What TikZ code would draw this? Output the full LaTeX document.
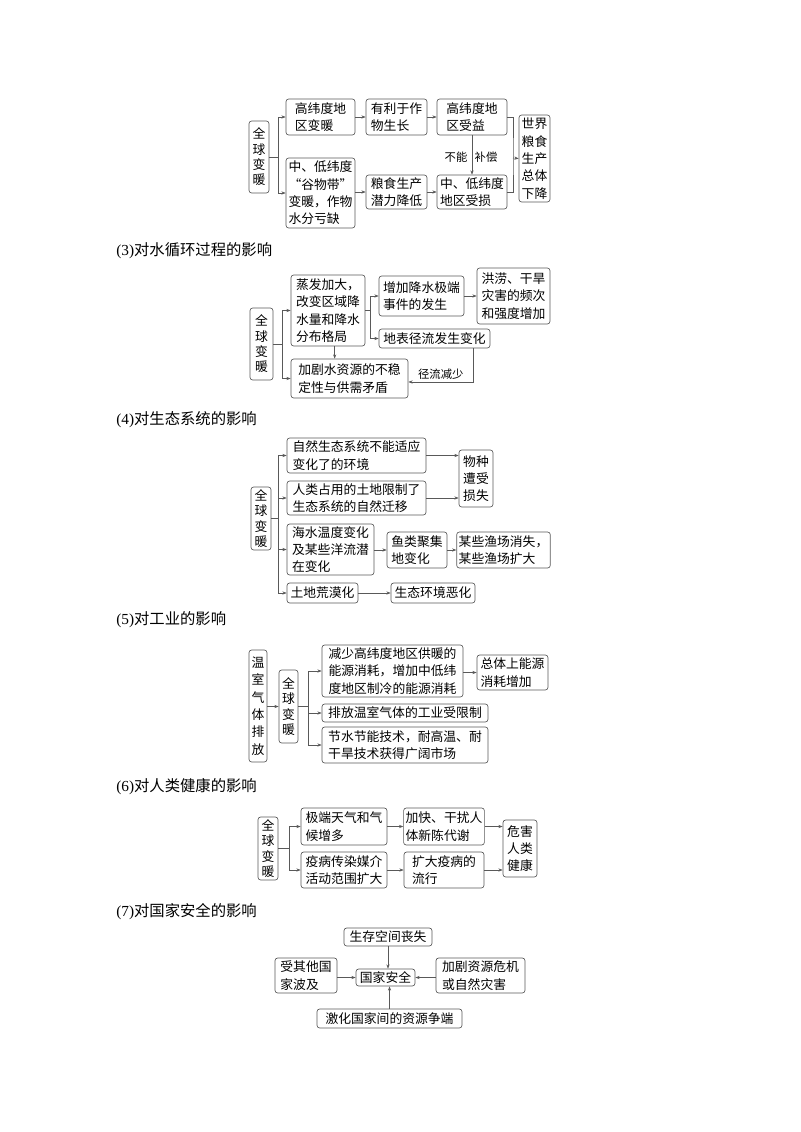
\documentclass[tikz,border=0pt]{standalone}
\usepackage{fontspec}
\setmainfont{Liberation Serif}
\newfontfamily\cjk{Noto Sans CJK SC}
\usepackage{tikz}
\usetikzlibrary{arrows.meta}
\definecolor{boxgray}{rgb}{0.35,0.35,0.35}

\begin{document}
\begin{tikzpicture}[x=0.75pt, y=-0.75pt,
  box/.style={draw=boxgray, rounded corners=2pt, line width=0.5pt, align=left,
    inner xsep=1.5pt, inner ysep=1pt, font=\cjk\fontsize{9.6}{13}\selectfont},
  vbox/.style={box, align=center, font=\cjk\fontsize{9.6}{11.5}\selectfont},
  cbox/.style={box, align=center},
  sz/.style 2 args={minimum width=#1*0.75pt, minimum height=#2*0.75pt},
  arr/.style={-{Stealth[length=3.2pt, width=2.4pt]}, draw=boxgray, line width=0.45pt},
  lnk/.style={draw=boxgray, line width=0.45pt},
  lbl/.style={font=\cjk\fontsize{8.5}{9}\selectfont, inner sep=1pt},
  ttl/.style={anchor=west, inner sep=0pt, font=\fontsize{11.5}{13}\selectfont}
]
\useasboundingbox (0,0) rectangle (800,1132);

% (2) grain production
\node[vbox, sz={20}{72}] (qq1) at (259,157) {全\\球\\变\\暖};
\node[box, sz={69}{36}] (a1) at (320.5,117) {高纬度地\\区变暖};
\node[box, sz={61}{36}] (a2) at (396.5,117) {有利于作\\物生长};
\node[box, sz={70}{36}] (a3) at (472,117) {高纬度地\\区受益};
\node[box, sz={69}{70}] (b1) at (320.5,193) {中、低纬度\\“谷物带”\\变暖，作物\\水分亏缺};
\node[box, sz={61}{34}] (b2) at (396.5,192) {粮食生产\\潜力降低};
\node[box, sz={70}{34}] (b3) at (472,192) {中、低纬度\\地区受损};
\node[cbox, sz={31}{87}] (c1) at (534.5,158.5) {世界\\粮食\\生产\\总体\\下降};
\node[lbl] (bn) at (456,157) {不能};
\node[lbl] (bc) at (486,157) {补偿};

\draw[arr] (qq1.east) -- ++(9,0) |- (a1.west);
\draw[arr] (qq1.east) -- ++(9,0) |- (b1.west);
\draw[arr] (a1) -- (a2);
\draw[arr] (a2) -- (a3);
\draw[arr] (b1.east |- b2) -- (b2.west);
\draw[arr] (b2) -- (b3);
\draw[arr] (a3) -- (a3 |- b3.north);
\coordinate (r1) at (513,158);
\draw[lnk] (a3.east) -| (r1) |- (b3.east);
\draw[arr] (r1) -- (c1.west);

% (3) water cycle
\node[ttl] (t3) at (116,251) {(3)\cjk 对水循环过程的影响};
\node[vbox, sz={23}{72}] (qq3) at (261.5,344) {全\\球\\变\\暖};
\node[box, sz={74}{71}] (d1) at (328,310.5) {蒸发加大，\\改变区域降\\水量和降水\\分布格局};
\node[box, sz={85}{40}] (d2) at (421.5,296) {增加降水极端\\事件的发生};
\node[box, sz={73}{56}] (d3) at (513.5,296) {洪涝、干旱\\灾害的频次\\和强度增加};
\node[box, sz={111}{19}] (d4) at (434.5,338.5) {地表径流发生变化};
\node[box, sz={117}{39}] (d5) at (349.5,378.5) {加剧水资源的不稳\\定性与供需矛盾};

\draw[arr] (qq3.east) -- ++(9,0) |- (d1.west);
\draw[arr] (qq3.east) -- ++(9,0) |- (d5.west);
\draw[arr] ([xshift=5pt]d1.south) -- ([xshift=5pt]d1.south |- d5.north);
\draw[arr] (d1.east) -- ++(5,0) |- (d2.west);
\draw[arr] (d1.east) -- ++(5,0) |- (d4.west);
\draw[arr] (d2) -- (d3);
\draw[arr] ([xshift=29pt]d4.south) |- ([yshift=-2.6pt]d5.east)
  node[pos=0.75, above=1pt, lbl] {径流减少};

% (4) ecosystems
\node[ttl] (t4) at (116,420) {(4)\cjk 对生态系统的影响};
\node[vbox, sz={20}{63}] (qq4) at (261,518.5) {全\\球\\变\\暖};
\node[box, sz={139}{35}] (e1) at (356.5,455.5) {自然生态系统不能适应\\变化了的环境};
\node[box, sz={139}{34}] (e2) at (356.5,498) {人类占用的土地限制了\\生态系统的自然迁移};
\node[cbox, sz={34}{57}] (e3) at (476,478.5) {物种\\遭受\\损失};
\node[box, sz={87}{51}] (e4) at (330.5,549.5) {海水温度变化\\及某些洋流潜\\在变化};
\node[box, sz={60}{36}] (e5) at (417,550) {鱼类聚集\\地变化};
\node[box, sz={89}{36}] (e6) at (503.5,550) {某些渔场消失，\\某些渔场扩大};
\node[box, sz={71}{20}] (e7) at (322.5,593) {土地荒漠化};
\node[box, sz={84}{20}] (e8) at (433,593) {生态环境恶化};

\foreach \n in {e1,e2,e4,e7}
  \draw[arr] (qq4.east) -- ++(7,0) |- (\n.west);
\draw[arr] (e1.east) -- (e1.east -| e3.west);
\draw[arr] (e2.east) -- (e2.east -| e3.west);
\draw[arr] (e4.east |- e5) -- (e5.west);
\draw[arr] (e5) -- (e6);
\draw[arr] (e7) -- (e8);

% (5) industry
\node[ttl] (t5) at (116,620) {(5)\cjk 对工业的影响};
\node[cbox, sz={18}{112}] (f0) at (258,706) {温\\室\\气\\体\\排\\放};
\node[vbox, sz={19}{73}] (qq5) at (288.5,706.5) {全\\球\\变\\暖};
\node[box, sz={141}{52}] (f1) at (392.5,671) {减少高纬度地区供暖的\\能源消耗，增加中低纬\\度地区制冷的能源消耗};
\node[box, sz={71}{35}] (f2) at (512.5,672.5) {总体上能源\\消耗增加};
\node[box, sz={166}{18}] (f3) at (405,713) {排放温室气体的工业受限制};
\node[box, sz={166}{36}] (f4) at (405,745) {节水节能技术，耐高温、耐\\干旱技术获得广阔市场};

\draw[arr] (f0.east |- qq5) -- (qq5.west);
\foreach \n in {f1,f3,f4}
  \draw[arr] (qq5.east) -- ++(10,0) |- (\n.west);
\draw[arr] (f1.east |- f2) -- (f2.west);

% (6) human health
\node[ttl] (t6) at (116,787) {(6)\cjk 对人类健康的影响};
\node[vbox, sz={20}{63}] (qq6) at (268,848.5) {全\\球\\变\\暖};
\node[box, sz={86}{37}] (g1) at (344,826.5) {极端天气和气\\候增多};
\node[box, sz={86}{36}] (g2) at (344,870) {疫病传染媒介\\活动范围扩大};
\node[box, sz={80}{37}] (g3) at (444,826.5) {加快、干扰人\\体新陈代谢};
\node[box, sz={80}{36}] (g4) at (444,870) {扩大疫病的\\流行};
\node[cbox, sz={34}{57}] (g5) at (520,848.5) {危害\\人类\\健康};

\draw[arr] (qq6.east) -- ++(11,0) |- (g1.west);
\draw[arr] (qq6.east) -- ++(11,0) |- (g2.west);
\draw[arr] (g1) -- (g3);
\draw[arr] (g2) -- (g4);
\draw[arr] (g3.east) -- (g3.east -| g5.west);
\draw[arr] (g4.east) -- (g4.east -| g5.west);

% (7) national security
\node[ttl] (t7) at (116,912) {(7)\cjk 对国家安全的影响};
\node[box, sz={88}{18}] (h1) at (388,937) {生存空间丧失};
\node[box, sz={62}{35}] (h2) at (306,975.5) {受其他国\\家波及};
\node[box, sz={59}{17}] (h0) at (385.5,977.5) {国家安全};
\node[box, sz={89}{35}] (h3) at (480.5,975.5) {加剧资源危机\\或自然灾害};
\node[box, sz={145}{19}] (h4) at (389.5,1018.5) {激化国家间的资源争端};

\draw[arr] (h1) -- (h1 |- h0.north);
\draw[arr] (h2.east |- h0) -- (h0.west);
\draw[arr] (h3.west |- h0) -- (h0.east);
\draw[arr] (h4) -- (h4 |- h0.south);

\end{tikzpicture}
\end{document}
